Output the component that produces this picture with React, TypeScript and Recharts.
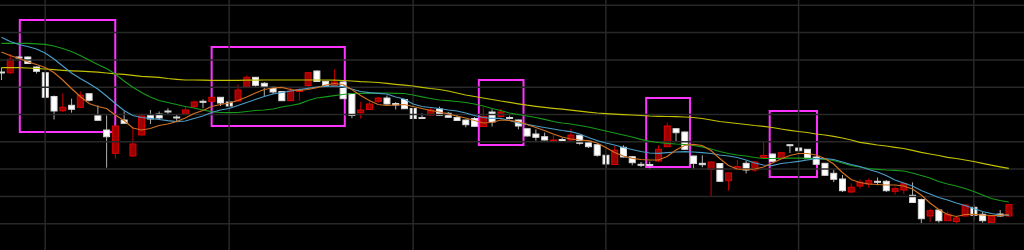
import { ComposedChart, Bar, Line, XAxis, YAxis, ReferenceLine, ReferenceArea } from 'recharts'

const opens = [
  178, 177.3, 193, 193, 183, 177.3, 153.5, 139.3, 144.7, 142.7,
  156.3, 134.3, 120, 96.7, 130, 94, 115, 134.5, 136, 139,
  133, 136, 143.3, 148.7, 148.5, 152.7, 148, 149, 163.3, 172.7,
  166.7, 162.7, 158.5, 149.3, 158.5, 164.5, 179, 168.7, 164.5, 168,
  156.5, 137.3, 140.5, 148.7, 152, 146.5, 150.5, 141.5, 132.5, 135,
  141, 136.7, 132.5, 130, 131.5, 123.5, 138, 133.5, 132.5, 130,
  121.3, 116, 113.3, 109.5, 110.5, 110, 114.7, 108.7, 105.3, 94.7,
  85.5, 102.7, 93.3, 85.7, 85.5, 89, 103.3, 121.3, 118, 94,
  86.7, 80.5, 86.5, 69.3, 80.5, 86.7, 80, 92.5, 96, 91.5,
  105.3, 102, 100.7, 93, 86.7, 76.7, 71, 58, 64, 66,
  68.7, 68.7, 58.7, 60, 54.7, 50.5, 34, 40, 29.3, 28.5,
  34, 42.7, 35.7, 27.3, 36, 34,
]
const highs = [
  182, 196, 193.5, 193.5, 183.5, 177.5, 154.5, 156.5, 151.3, 158.5,
  156.5, 144.7, 134.7, 124.5, 138.7, 123.3, 135, 140, 138.5, 141.7,
  136, 143.5, 149.3, 150.7, 153, 153, 150, 165.5, 174.5, 173,
  168, 163.5, 159, 162.5, 162.5, 178, 179.5, 169, 180.7, 168.5,
  157, 148, 148.5, 153, 154.5, 148, 151, 142, 136.7, 142.7,
  143.3, 138, 135.3, 130.5, 133, 142.7, 140.7, 141, 134.5, 130.5,
  121.5, 120.7, 117.5, 115.3, 112.5, 121.3, 115, 110, 105.5, 95,
  104, 104.7, 94, 88, 88.5, 104.7, 127.3, 121.5, 118.5, 94.5,
  94.7, 88.5, 87, 77.5, 90, 89.3, 89, 108, 96.5, 98,
  105.5, 102.5, 101, 93.5, 87, 80.5, 75, 66.5, 70.5, 71.7,
  72.5, 70, 63.5, 67.3, 67.7, 51.5, 41.3, 40.5, 38.7, 34,
  45.5, 45.3, 38, 34.5, 40, 46,
]
const lows = [
  170, 176, 192, 186, 176.5, 151, 130.5, 138, 137.3, 142,
  148.3, 129.3, 82.3, 91.3, 126.5, 93.3, 114.5, 126, 131, 135,
  129, 135.5, 142, 141.7, 148, 144, 142, 148.5, 163, 163.3,
  153.3, 156, 149, 149, 149.3, 162.7, 168, 162.7, 164, 151,
  131.7, 131.3, 140, 147, 145.5, 140.5, 141, 131, 131.7, 134.5,
  134, 132, 129, 122.7, 123, 123, 123.5, 133, 130.5, 120.7,
  113.5, 109.3, 109.5, 109.5, 108, 109.5, 105.3, 102, 93.3, 81.3,
  85, 92.5, 84.7, 83, 80.5, 88.3, 103, 109, 100, 81.3,
  82.7, 53, 68, 59.3, 80, 76.5, 78, 92, 88, 91,
  97, 98, 91, 85, 74, 68, 58, 56.7, 61.3, 62.3,
  64.7, 58, 55.5, 56, 47, 26, 28, 27.3, 29, 26.7,
  33.5, 30, 27.3, 27, 33, 33.5,
]
const closes = [
  177.5, 190.7, 192.5, 186.5, 178.7, 152.7, 139, 142.7, 140.7, 154.7,
  149.7, 129.7, 113.3, 124, 126.7, 106, 134, 131, 132, 138.5,
  132.5, 140, 148, 148.3, 152.7, 147, 144, 160, 172.7, 164.7,
  162.7, 158, 149.3, 159, 160.5, 177.3, 168.5, 164.5, 168, 151.3,
  134.5, 140, 146, 152, 146, 145, 141.3, 131.5, 132, 140,
  134.7, 132.7, 129.5, 125.3, 123.7, 133.5, 128, 138, 131.7, 124,
  114, 112.7, 110, 110, 109, 115, 106.7, 103.3, 94.7, 86,
  99.7, 93, 87.3, 85.3, 85, 100.7, 124, 117.3, 100.7, 86.5,
  85.3, 88, 68.7, 77, 83.3, 80, 88, 94.5, 88.7, 97.3,
  104.5, 99.3, 91.3, 85.7, 74.7, 70.7, 59.3, 62.7, 67.7, 69.3,
  68.3, 59.3, 61.3, 66.3, 47.5, 31.3, 39.3, 29.3, 35.7, 32,
  45, 34.7, 29.3, 34, 34, 45.3,
]

// moving averages as drawn on the chart
const ma5 = [
  198, 194.5, 191.5, 188.3, 185.5, 182.5, 177.5, 170, 161.5, 153.5,
  146.5, 143.5, 141.5, 135, 129.5, 122, 120, 121.5, 124.5, 126,
  128.5, 132, 136.5, 139.5, 143.5, 145.5, 147, 149.5, 153, 157,
  160.5, 162, 162.7, 160.5, 159.5, 160.5, 162.3, 165, 166.5, 165.5,
  160.5, 154.5, 149.5, 145.5, 144.5, 145, 145.5, 143.5, 141.5, 139.5,
  138, 136, 134, 132, 129.5, 127, 127.5, 130, 129.5, 128.3,
  125.5, 122.5, 119.5, 116, 113, 111, 110, 109.3, 107, 102.5,
  97.5, 94, 91.7, 90.5, 90, 90, 93.5, 100, 104.5, 105.7,
  104.5, 99.5, 91.5, 84.5, 81, 80.5, 81, 83, 87, 91,
  94.5, 96.5, 96.5, 95, 91.5, 86, 77.5, 70.5, 67.5, 66,
  65.5, 65, 65, 64, 61, 55, 47, 40.5, 35.5, 33.5,
  35.5, 35.7, 35, 34.5, 34.7, 35.5,
]
const ma13 = [
  212.7, 208.5, 205.5, 203.5, 201, 197, 191, 184, 177, 171.5,
  166.5, 161, 154, 146.5, 139.5, 134.5, 132.5, 131.7, 130.5, 129.3,
  128.3, 129, 131.5, 134, 137.5, 140, 141.5, 144.5, 147.5, 150.5,
  153.5, 156, 157.5, 159, 160.3, 161.7, 163, 163.7, 164, 163.3,
  161, 158.5, 157.3, 156.7, 156, 153, 151, 146, 143.5, 142.5,
  141.5, 140, 139, 137, 134.5, 132.5, 131.7, 131.7, 129.5, 127,
  125.7, 124, 122.5, 121, 119.5, 118.3, 116, 112.5, 109.5, 107,
  105, 102.5, 100.5, 98.5, 97, 96.7, 97.3, 98, 98.3, 98,
  97.3, 96.5, 95, 94, 92.5, 90, 87, 85, 84.3, 86.5,
  87.5, 88.7, 90, 91.3, 91.3, 90.5, 88, 85.5, 83.5, 80.5,
  78, 74.5, 70, 67, 64, 59.5, 56, 52.5, 50, 47,
  44.5, 41.5, 38.5, 36.5, 35, 34.7,
]
const ma25 = [
  206.7, 206.7, 206.7, 206.7, 206.2, 205.7, 204, 201.5, 198.5, 194.5,
  190, 185.5, 181.5, 176, 169, 162.7, 157.5, 153, 149.5, 147.5,
  145.5, 143.5, 142, 140, 138.3, 137.5, 137.3, 137.5, 138.5, 139.5,
  140, 141, 143, 144.5, 146.2, 149.5, 152, 153.2, 154.3, 155.5,
  156.5, 156.7, 156.7, 157, 157, 156.7, 156.5, 155, 153.2, 151.5,
  150, 149.3, 148.5, 147.5, 146, 144, 141.5, 139.5, 137, 135.5,
  134, 132.5, 130.7, 128.5, 127, 126, 124.5, 123, 121, 119,
  117, 115, 113, 110.7, 108.7, 107.5, 106.7, 106, 105.5, 104.5,
  103.2, 101, 98.5, 96.5, 95, 94, 92.5, 91.5, 91.5, 91.7,
  91.8, 91.8, 91.7, 91.5, 90.5, 89.5, 87, 84.5, 83, 81.5,
  80.7, 80, 79.7, 79, 77, 74.5, 72, 68.5, 66, 64,
  61.5, 58.5, 55, 51.5, 49.5, 48,
]
const ma75 = [
  182.3, 182.3, 182.3, 182, 181.5, 181, 180.3, 179.7, 179.2, 178.8,
  178.4, 177.8, 177, 176.2, 175.7, 174.7, 173.7, 173.2, 172.7, 171.5,
  170.7, 170, 170, 169.8, 169.7, 169.7, 169.7, 169.7, 169.8, 169.8,
  170, 170, 170, 170, 170, 170, 170, 170, 169.8, 169.5,
  169, 168.4, 168, 167.5, 166.7, 165.7, 164.8, 164, 162.7, 161.5,
  160.5, 159, 157, 155, 153.5, 152, 150.5, 149, 147.7, 146.2,
  144.8, 143.7, 142.7, 141.7, 140.8, 139.8, 138.8, 137.8, 137, 136.4,
  135.9, 135.4, 135, 134.5, 134, 133.7, 133.5, 133.3, 133, 132.5,
  131.5, 130, 128.5, 127.5, 126.5, 125.5, 124.5, 123.7, 122.5, 121,
  119.7, 118.5, 117.5, 116, 115, 113.7, 112, 110, 107.7, 106.3,
  105, 104, 102.7, 101.5, 99.7, 97.7, 96, 94.5, 92.7, 91.5,
  90, 88.5, 86.7, 84.8, 83.2, 81.7,
]

// horizontal grid levels and sessions that open a new month
const gridLevels = [26.3, 53.6, 80.9, 108.2, 135.5, 162.8, 190.1, 217.4, 244.7]
const monthStarts = [5, 26, 47, 69, 91, 111]

// highlighted patterns (session span, price span)
const boxFrom = [2.1, 24.0, 54.5, 73.6, 87.7]
const boxTo = [13.0, 39.2, 59.6, 78.6, 93.1]
const boxTop = [230, 203, 170, 152, 139]
const boxBottom = [118, 124, 105, 83, 73]

const data = opens.map((open, i) => ({
  i,
  open,
  high: highs[i],
  low: lows[i],
  close: closes[i],
  range: [lows[i], highs[i]],
  ma5: ma5[i],
  ma13: ma13[i],
  ma25: ma25[i],
  ma75: ma75[i],
}))

const GRID = '#282828'

function Candle(props: any) {
  const { x, y, width, height, payload } = props
  const { open, close, high, low } = payload
  const top = Math.min(y, y + height)
  const h = Math.abs(height)
  const toY = (v: number) => top + ((high - v) / (high - low || 1)) * h
  const cx = x + width / 2
  const up = close > open
  const bodyTop = toY(Math.max(open, close))
  const bodyH = Math.max(toY(Math.min(open, close)) - bodyTop, 1)
  return (
    <g>
      <line x1={cx} x2={cx} y1={top} y2={top + h} stroke={up ? '#c80000' : '#b0b0b0'} strokeWidth={1} />
      <rect
        x={cx - 3}
        y={bodyTop}
        width={6}
        height={bodyH}
        fill={up ? '#9c0000' : '#ffffff'}
        stroke={up ? '#e00000' : '#d8d8d8'}
        strokeWidth={1}
      />
    </g>
  )
}

export default function App() {
  return (
    <div style={{ position: 'fixed', left: 0, top: 0, width: 1024, height: 250, background: '#000', overflow: 'hidden' }}>
      <div style={{ position: 'absolute', left: -2.88, top: 0 }}>
        <ComposedChart
          width={1027}
          height={250}
          data={data}
          margin={{ top: 0, right: 0, bottom: 0, left: 0 }}
          barCategoryGap={0}
        >
          <XAxis dataKey="i" type="category" hide padding={{ left: 0, right: 10.8 }} />
          <XAxis xAxisId="pos" dataKey="i" type="number" domain={[-0.5, 116.73]} hide allowDataOverflow />
          <YAxis type="number" domain={[0, 250]} hide allowDataOverflow />

          {gridLevels.map(v => (
            <ReferenceLine key={'h' + v} y={v} stroke={GRID} strokeWidth={1.5} />
          ))}
          {monthStarts.map(k => (
            <ReferenceLine key={'v' + k} xAxisId="pos" x={k} stroke={GRID} strokeWidth={1.5} />
          ))}

          <Bar dataKey="range" shape={<Candle />} activeBar={false} isAnimationActive={false} />

          <Line type="linear" dataKey="ma75" stroke="#c2c000" strokeWidth={1.2} dot={false} activeDot={false} isAnimationActive={false} />
          <Line type="linear" dataKey="ma25" stroke="#17991a" strokeWidth={1.2} dot={false} activeDot={false} isAnimationActive={false} />
          <Line type="linear" dataKey="ma13" stroke="#4a9cc6" strokeWidth={1.2} dot={false} activeDot={false} isAnimationActive={false} />
          <Line type="linear" dataKey="ma5" stroke="#d07020" strokeWidth={1.2} dot={false} activeDot={false} isAnimationActive={false} />

          {boxFrom.map((from, n) => (
            <ReferenceArea
              key={'box' + n}
              xAxisId="pos"
              x1={from}
              x2={boxTo[n]}
              y1={boxBottom[n]}
              y2={boxTop[n]}
              fill="none"
              fillOpacity={0}
              stroke="#ff33ff"
              strokeWidth={2}
            />
          ))}
        </ComposedChart>
      </div>
    </div>
  )
}
